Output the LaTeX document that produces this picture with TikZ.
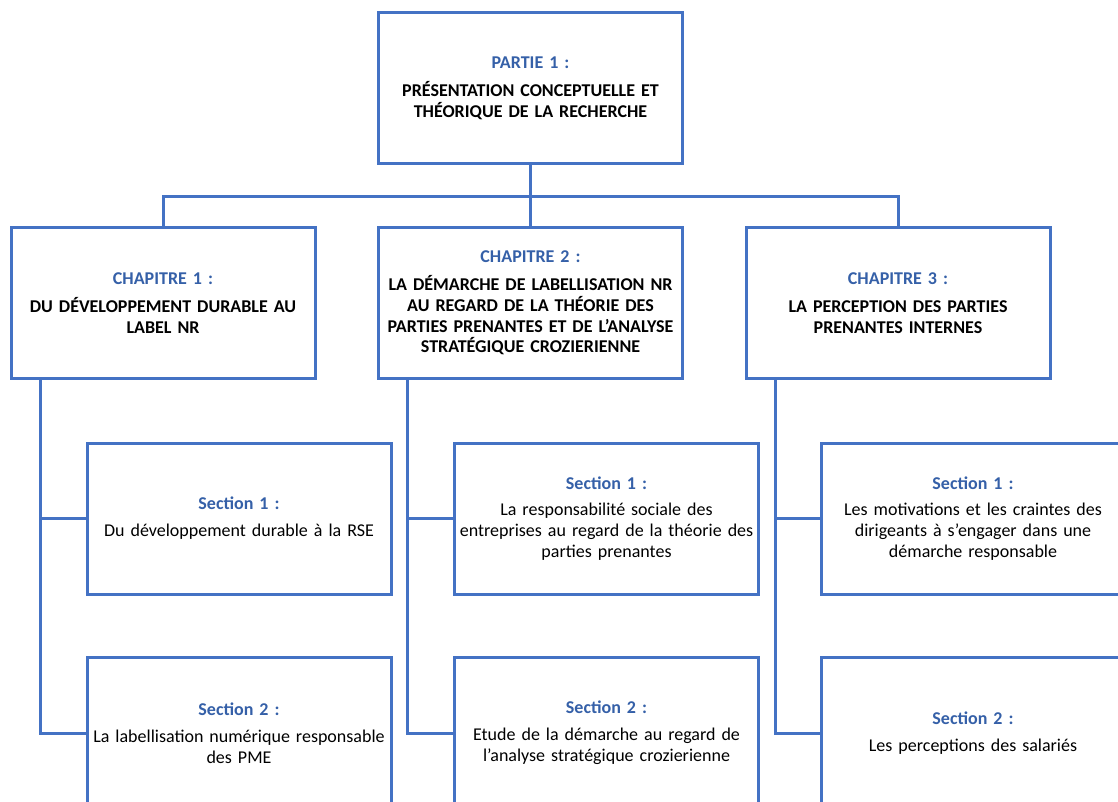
\documentclass[tikz,border=0pt]{standalone}
\usepackage{fontspec}
\setmainfont{Carlito}
\usetikzlibrary{positioning,calc}
\definecolor{lineblue}{HTML}{4472C4}
\definecolor{titleblue}{HTML}{3560A8}
\begin{document}
\begin{tikzpicture}[x=1pt,y=-1pt,
  box/.style={draw=lineblue,line width=3pt,fill=white,minimum width=304pt,minimum height=151pt,
    text width=300pt,align=center,inner sep=0pt,font=\fontsize{18}{20.8}\selectfont},
  conn/.style={draw=lineblue,line width=3pt}]
\useasboundingbox (0,0) rectangle (1118,801);
\clip (0,0) rectangle (1118,801);
\newcommand{\bt}[1]{{\bfseries\color{titleblue}#1}}
\node[box] (top) at (530.5,88) {\bt{PARTIE 1 :}\\[7pt]\bfseries PRÉSENTATION CONCEPTUELLE ET\\ THÉORIQUE DE LA RECHERCHE};
\node[box] (ch1) at (163,303) {\bt{CHAPITRE 1 :}\\[7pt]\bfseries DU DÉVELOPPEMENT DURABLE AU\\ LABEL NR};
\node[box] (ch2) at (530.5,303) {\bt{CHAPITRE 2 :}\\[7pt]\bfseries LA DÉMARCHE DE LABELLISATION NR\\ AU REGARD DE LA THÉORIE DES\\ PARTIES PRENANTES ET DE L’ANALYSE\\ STRATÉGIQUE CROZIERIENNE};
\node[box] (ch3) at (898,303) {\bt{CHAPITRE 3 :}\\[7pt]\bfseries LA PERCEPTION DES PARTIES\\ PRENANTES INTERNES};
\node[box] (s11) at (239,518.5) {\bt{Section 1 :}\\[6pt]Du développement durable à la RSE};
\node[box] (s12) at (239,733) {\bt{Section 2 :}\\[6pt]La labellisation numérique responsable\\ des PME};
\node[box] (s21) at (606.5,518.5) {\bt{Section 1 :}\\[6pt]La responsabilité sociale des\\ entreprises au regard de la théorie des\\ parties prenantes};
\node[box] (s22) at (606.5,733) {\bt{Section 2 :}\\[6pt]Etude de la démarche au regard de\\ l’analyse stratégique crozierienne};
\node[box] (s31) at (973,518.5) {\bt{Section 1 :}\\[6pt]Les motivations et les craintes des\\ dirigeants à s’engager dans une\\ démarche responsable};
\node[box] (s32) at (973,733) {\bt{Section 2 :}\\[6pt]Les perceptions des salariés};
\coordinate (bus) at (530.5,196);
\draw[conn] (top.south) -- (ch2.north);
\draw[conn] (ch1.north) |- (bus) -| (ch3.north);
\coordinate (v1) at ([xshift=30.5pt]ch1.south west);
\coordinate (v2) at ([xshift=30.5pt]ch2.south west);
\coordinate (v3) at ([xshift=30.5pt]ch3.south west);
\draw[conn] (v1) |- (s12.west); \draw[conn] (v1 |- s11.west) -- (s11.west);
\draw[conn] (v2) |- (s22.west); \draw[conn] (v2 |- s21.west) -- (s21.west);
\draw[conn] (v3) |- (s32.west); \draw[conn] (v3 |- s31.west) -- (s31.west);
\end{tikzpicture}
\end{document}
